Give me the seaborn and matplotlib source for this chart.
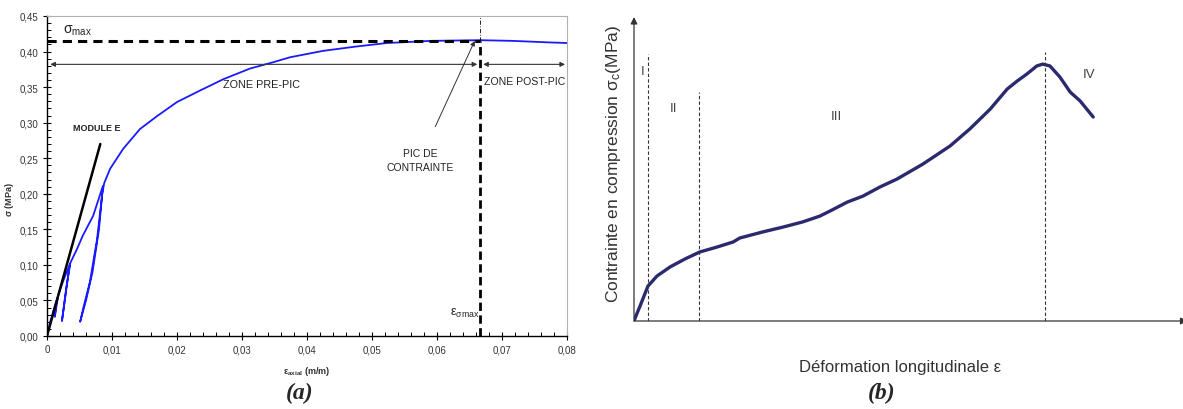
import matplotlib
matplotlib.use("Agg")
import matplotlib.pyplot as plt
from matplotlib.ticker import MultipleLocator, FuncFormatter
import seaborn as sns
import pandas as pd

# --- (a) cyclic compression test: axial strain (m/m) vs stress (MPa)
strain_a = [0, 0.0005, 0.0012, 0.0017, 0.0012, 0.0014, 0.0018, 0.0026, 0.0035,
            0.0023, 0.0030, 0.0036, 0.0046, 0.0055, 0.0071, 0.0086,
            0.0080, 0.0070, 0.0060, 0.0051,
            0.0056, 0.0066, 0.0077, 0.0085, 0.0088, 0.0097,
            0.0117, 0.0143, 0.0169, 0.0200, 0.0235, 0.0271, 0.0312, 0.0348,
            0.0374, 0.0425, 0.0475, 0.0523, 0.0590, 0.0666, 0.0717, 0.0769,
            0.0800]
stress_a = [0, 0.020, 0.042, 0.056, 0.027, 0.045, 0.060, 0.080, 0.101,
            0.021, 0.070, 0.103, 0.122, 0.141, 0.169, 0.211,
            0.150, 0.090, 0.050, 0.020,
            0.040, 0.076, 0.136, 0.200, 0.215, 0.235,
            0.263, 0.291, 0.309, 0.329, 0.345, 0.361, 0.376, 0.385,
            0.392, 0.401, 0.407, 0.412, 0.415, 0.416, 0.415, 0.413,
            0.412]
modulus_strain = [0, 0.0082]
modulus_stress = [0, 0.27]
sigma_max = 0.415
eps_sigma_max = 0.0666

# --- (b) schematic compression curve (arbitrary units)
strain_b = [0, 0.005, 0.011, 0.0255, 0.042, 0.066, 0.093, 0.120, 0.151, 0.181,
            0.193, 0.235, 0.272, 0.308, 0.339, 0.358, 0.389, 0.418, 0.449,
            0.480, 0.527, 0.577, 0.613, 0.650, 0.681, 0.699, 0.717, 0.735,
            0.746, 0.759, 0.777, 0.796, 0.814, 0.838]
stress_b = [0, 0.023, 0.049, 0.115, 0.148, 0.178, 0.204, 0.227, 0.243, 0.260,
            0.273, 0.293, 0.309, 0.326, 0.345, 0.362, 0.391, 0.411, 0.441,
            0.467, 0.516, 0.576, 0.632, 0.697, 0.763, 0.789, 0.8125, 0.839,
            0.845, 0.839, 0.803, 0.753, 0.724, 0.671]
phase_bounds = [0.0255, 0.119, 0.75]
phase_tops = [0.878, 0.753, 0.885]
phase_labels = ["I", "II", "III", "IV"]
phase_label_x = [0.016, 0.072, 0.37, 0.83]
phase_label_y = [0.823, 0.70, 0.675, 0.812]

sns.set_theme(style="white")
plt.rcParams["font.family"] = ["Liberation Sans", "DejaVu Sans"]
plt.rcParams["mathtext.fontset"] = "custom"
plt.rcParams["mathtext.rm"] = "Liberation Sans"
plt.rcParams["mathtext.it"] = "Liberation Sans:italic"
plt.rcParams["mathtext.bf"] = "Liberation Sans:bold"

fig = plt.figure(figsize=(11.83, 4.10), dpi=100)
ax = fig.add_axes([47 / 1183, 73 / 410, 520 / 1183, 320 / 410])
bx = fig.add_axes([634 / 1183, 88 / 410, 548 / 1183, 304 / 410])

# ---------------- panel (a)
df_a = pd.DataFrame({"strain": strain_a, "stress": stress_a})
sns.lineplot(data=df_a, x="strain", y="stress", sort=False, estimator=None,
             color="#1a1aff", lw=1.3, ax=ax)
sns.lineplot(x=modulus_strain, y=modulus_stress, color="black", lw=1.8, ax=ax)

ax.set_xlim(0, 0.08)
ax.set_ylim(0, 0.45)
ax.xaxis.set_major_locator(MultipleLocator(0.01))
ax.xaxis.set_minor_locator(MultipleLocator(0.002))
ax.yaxis.set_major_locator(MultipleLocator(0.05))
ax.yaxis.set_minor_locator(MultipleLocator(0.01))
ax.xaxis.set_major_formatter(FuncFormatter(
    lambda v, p: "0" if abs(v) < 1e-9 else f"{v:.2f}".replace(".", ",")))
ax.yaxis.set_major_formatter(FuncFormatter(lambda v, p: f"{v:.2f}".replace(".", ",")))
ax.tick_params(axis="both", which="major", direction="inout", length=6, width=0.8,
               labelsize=7, colors="black", labelcolor="#333333", pad=3)
ax.tick_params(axis="both", which="minor", direction="in", length=3, width=0.7,
               colors="black")
ax.tick_params(axis="x", which="both", bottom=True)
ax.tick_params(axis="y", which="both", left=True)
for s in ("left", "bottom"):
    ax.spines[s].set_color("black")
    ax.spines[s].set_linewidth(1.0)
for s in ("top", "right"):
    ax.spines[s].set_color("#b0b0b0")
    ax.spines[s].set_linewidth(0.8)

ax.set_xlabel(r"$\mathbf{\epsilon_{axial}}$ (m/m)", fontsize=6.5, fontweight="bold",
              color="#333333", labelpad=7)
ax.set_ylabel(r"$\mathbf{\sigma}$ (MPa)", fontsize=6.5, fontweight="bold",
              color="#333333")
ax.yaxis.set_label_coords(-31 / 520, 0.43)

# sigma_max and epsilon at sigma_max guides
ax.plot([0, eps_sigma_max], [sigma_max, sigma_max], color="black", lw=2.2,
        ls=(0, (3, 2)))
ax.plot([eps_sigma_max, eps_sigma_max], [0, sigma_max], color="black", lw=2.0,
        ls=(0, (3, 1.6)))
ax.plot([eps_sigma_max, eps_sigma_max], [sigma_max, 0.45], color="black", lw=0.6,
        ls=(0, (5, 2, 1, 2)))

ax.text(0.0025, 0.427, r"$\mathregular{\sigma_{max}}$", fontsize=10, color="#222222")
ax.text(0.0620, 0.029, r"$\mathregular{\epsilon_{\sigma max}}$", fontsize=9,
        color="#222222")
ax.text(0.004, 0.29, "MODULE E", fontsize=6.5, fontweight="bold", color="#222222")

# zone arrows
arrow_kw = dict(arrowstyle="-|>", color="#333333", lw=0.8, mutation_scale=7,
                shrinkA=0, shrinkB=0)
ax.annotate("", xy=(0.0005, 0.382), xytext=(0.0355, 0.382), arrowprops=arrow_kw)
ax.annotate("", xy=(0.0662, 0.382), xytext=(0.0355, 0.382), arrowprops=arrow_kw)
ax.annotate("", xy=(0.0671, 0.382), xytext=(0.0735, 0.382), arrowprops=arrow_kw)
ax.annotate("", xy=(0.0797, 0.382), xytext=(0.0735, 0.382), arrowprops=arrow_kw)
ax.text(0.0330, 0.361, "ZONE PRE-PIC", fontsize=7.8, color="#222222",
        ha="center", va="top")
ax.text(0.0672, 0.366, "ZONE POST-PIC", fontsize=7.6, color="#222222",
        ha="left", va="top")
ax.annotate("PIC DE\nCONTRAINTE", xy=(0.0658, 0.415), xytext=(0.0574, 0.248),
            fontsize=7.5, color="#222222", ha="center", va="center",
            linespacing=1.5,
            arrowprops=dict(arrowstyle="-|>", color="#333333", lw=0.7,
                            mutation_scale=7, shrinkA=14, shrinkB=0))

# ---------------- panel (b)
df_b = pd.DataFrame({"strain": strain_b, "stress": stress_b})
sns.lineplot(data=df_b, x="strain", y="stress", sort=False, estimator=None,
             color="#2b2a6e", lw=2.4, ax=bx)
for xb, top in zip(phase_bounds, phase_tops):
    bx.plot([xb, xb], [0, top], color="#333333", lw=0.8, ls=(0, (3, 2)))
for lab, lx, ly in zip(phase_labels, phase_label_x, phase_label_y):
    bx.text(lx, ly, lab, fontsize=9.5, color="#444444", ha="center", va="center")

bx.set_xlim(0, 1)
bx.set_ylim(0, 1)
bx.set_xticks([])
bx.set_yticks([])
for s in bx.spines.values():
    s.set_visible(False)
axis_kw = dict(arrowstyle="-|>", color="#333333", lw=0.9, mutation_scale=10,
               shrinkA=0, shrinkB=0)
bx.annotate("", xy=(0, 1.0), xytext=(0, 0), xycoords="axes fraction",
            arrowprops=axis_kw, annotation_clip=False)
bx.annotate("", xy=(1.01, 0), xytext=(0, 0), xycoords="axes fraction",
            arrowprops=axis_kw, annotation_clip=False)
bx.set_xlabel("Déformation longitudinale ε", fontsize=12, color="#333333")
bx.xaxis.set_label_coords(266 / 548, -38 / 304)
bx.set_ylabel(r"Contrainte en compression $\mathregular{\sigma_c}$(MPa)",
              fontsize=12.5, color="#333333")
bx.yaxis.set_label_coords(-11 / 548, 0.52)

# panel tags
fig.text(300 / 1183, 17 / 410, "(a)", fontsize=17, fontweight="bold",
         fontstyle="italic", family="Liberation Serif", ha="center", va="center")
fig.text(882 / 1183, 17 / 410, "(b)", fontsize=17, fontweight="bold",
         fontstyle="italic", family="Liberation Serif", ha="center", va="center")

fig.savefig("out.png", dpi=100, facecolor="white")
